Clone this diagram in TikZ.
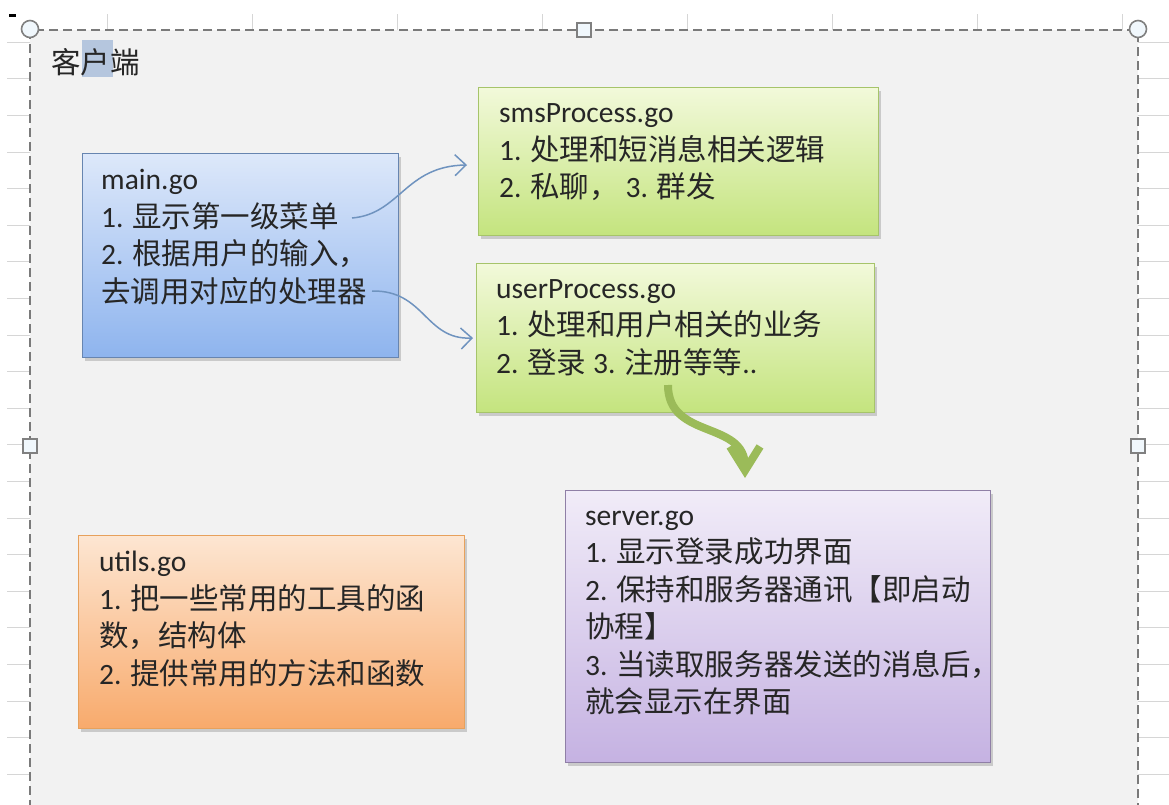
\documentclass[tikz,border=0pt]{standalone}
\usepackage{fontspec}
\setmainfont{Carlito}
\newfontfamily\cjk{Noto Sans CJK SC}
\usetikzlibrary{arrows.meta,positioning,shadows}

\definecolor{sheet}{HTML}{F2F2F2}
\definecolor{gridc}{HTML}{D6D6D6}
\definecolor{selc}{HTML}{B5C6DE}
\definecolor{framec}{HTML}{7A7A7A}
\definecolor{flowc}{HTML}{6F93BF}
\definecolor{callc}{HTML}{9BBB59}

\begin{document}
\begin{tikzpicture}[x=1pt,y=-1pt,
  gobox/.style={draw,line width=1pt,anchor=north west,inner sep=0pt,
    drop shadow={shadow xshift=2pt,shadow yshift=-3pt,opacity=.35}},
  blue/.style={gobox,top color={rgb,255:red,221;green,232;blue,250},bottom color={rgb,255:red,142;green,180;blue,238},draw={rgb,255:red,103;green,133;blue,176}},
  green/.style={gobox,top color={rgb,255:red,242;green,249;blue,218},bottom color={rgb,255:red,196;green,228;blue,126},draw={rgb,255:red,166;green,196;blue,106}},
  purple/.style={gobox,top color={rgb,255:red,241;green,236;blue,248},bottom color={rgb,255:red,197;green,178;blue,226},draw={rgb,255:red,143;green,127;blue,166}},
  orange/.style={gobox,top color={rgb,255:red,253;green,230;blue,210},bottom color={rgb,255:red,248;green,170;blue,108},draw={rgb,255:red,231;green,161;blue,92}},
  txt/.style={anchor=north west,inner sep=0pt,align=left,text=black!85,font=\fontsize{29.5}{37.5}\selectfont},
  handle/.style={draw=gray,line width=1.6pt,fill={rgb,255:red,240;green,247;blue,252},inner sep=0pt},
  flow/.style={flowc,line width=1.5pt,-{Straight Barb[length=11pt,width=21pt]}}]
  \clip (0,0) rectangle (1169,804);
  % spreadsheet behind the shape
  \foreach \k in {0,...,20} {
    \draw[gridc] (7,42+36.6*\k) -- (30,42+36.6*\k);
    \draw[gridc] (1138,42+36.6*\k) -- (1169,42+36.6*\k);}
  \foreach \k in {0,...,7} {\draw[gridc] (107+145*\k,14) -- (107+145*\k,30);}
  \fill[black] (9,14) rectangle (16,17);
  % client frame
  \draw[framec,fill=sheet,line width=2pt,dash pattern=on 9pt off 5pt] (30,30) rectangle (1138,840);
  \fill[selc] (82,40) rectangle (113,77);
  \node[txt,anchor=base west] (title) at (51,73) {\cjk 客户端};
  % files
  \node[blue,minimum width=316pt,minimum height=204pt] (mainbox) at (82,153) {};
  \node[green,minimum width=400pt,minimum height=148pt] (smsbox) at (478,87) {};
  \node[green,minimum width=398pt,minimum height=149pt] (userbox) at (476,263) {};
  \node[purple,minimum width=425pt,minimum height=272pt] (serverbox) at (565,490) {};
  \node[orange,minimum width=386pt,minimum height=193pt] (utilsbox) at (78,535) {};
  \node[txt] (maintxt) at ([shift={(19,10.5)}]mainbox.north west)
    {\strut main.go\\1. {\cjk 显示第一级菜单}\\2. {\cjk 根据用户的输入，}\\{\cjk 去调用对应的处理器}};
  \node[txt] (smstxt) at ([shift={(21,9.5)}]smsbox.north west)
    {\strut smsProcess.go\\1. {\cjk 处理和短消息相关逻辑}\\2. {\cjk 私聊，} 3. {\cjk 群发}};
  \node[txt] (usertxt) at ([shift={(20,9)}]userbox.north west)
    {\strut userProcess.go\\1. {\cjk 处理和用户相关的业务}\\2. {\cjk 登录} 3. {\cjk 注册等等}..};
  \node[txt] (servertxt) at ([shift={(20,9)}]serverbox.north west)
    {\strut server.go\\1. {\cjk 显示登录成功界面}\\2. {\cjk 保持和服务器通讯【即启动}\\{\cjk 协程】}\\3. {\cjk 当读取服务器发送的消息后，}\\{\cjk 就会显示在界面}};
  \node[txt] (utilstxt) at ([shift={(21,10.5)}]utilsbox.north west)
    {\strut utils.go\\1. {\cjk 把一些常用的工具的函}\\{\cjk 数，结构体}\\2. {\cjk 提供常用的方法和函数}};
  % connectors
  \coordinate (m1) at (352,218);
  \coordinate (s1) at (467,165);
  \coordinate (m2) at (372,291);
  \coordinate (u2) at (473,338);
  \coordinate (u1) at (668,385);
  \coordinate (v1) at (745,478);
  \draw[flow] (m1) .. controls (400,214) and (405,166) .. (s1);
  \draw[flow] (m2) .. controls (425,290) and (425,340) .. (u2);
  \draw[callc,line width=8pt,-{Straight Barb[length=24pt,width=30pt]}] (u1) .. controls (668,440) and (745,420) .. (v1);
  % selection handles
  \node[handle,circle,minimum size=17pt] (h1) at (30,29) {};
  \node[handle,circle,minimum size=17pt] (h2) at (1138,29) {};
  \node[handle,minimum size=14pt] (h3) at (584,30) {};
  \node[handle,minimum size=14pt] (h4) at (30,446) {};
  \node[handle,minimum size=14pt] (h5) at (1138,446) {};
\end{tikzpicture}
\end{document}
